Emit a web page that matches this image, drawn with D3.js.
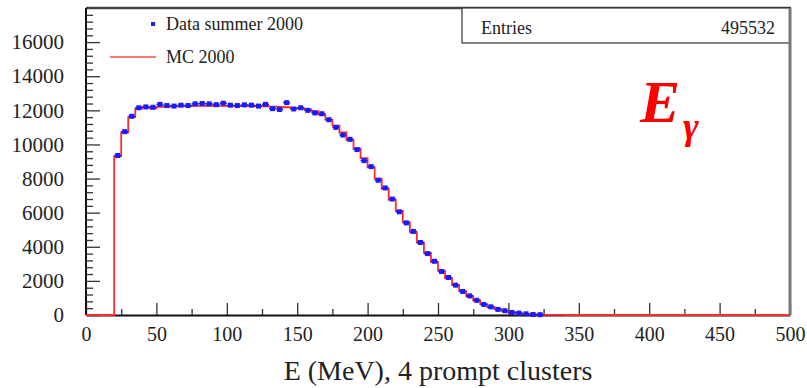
<!DOCTYPE html>
<html>
<head>
<meta charset="utf-8">
<script src="https://cdn.jsdelivr.net/npm/d3@7"></script>
<style>
  html, body { margin: 0; padding: 0; background: #fff; }
  svg { display: block; }
</style>
</head>
<body>
<svg id="chart" width="807" height="388"></svg>
<script>
// Photon energy spectrum, 4 prompt clusters: 5 MeV bins from 20 MeV upward
const binWidth = 5;
const binStarts = [20,25,30,35,40,45,50,55,60,65,70,75,80,85,90,95,100,105,110,115,120,125,130,135,140,145,
  150,155,160,165,170,175,180,185,190,195,200,205,210,215,220,225,230,235,240,245,250,255,260,265,270,275,
  280,285,290,295,300,305,310,315,320,325,330,335];
// Monte Carlo expectation (red histogram)
const mcCounts = [9300,10700,11600,12100,12200,12120,12200,12220,12240,12250,12250,12260,12270,12270,12260,12260,
  12260,12250,12250,12250,12240,12240,12220,12200,12180,12150,
  12120,12060,11950,11750,11450,11100,10700,10250,9750,9200,8650,8000,7400,6750,6100,5450,4850,4250,3650,3100,
  2600,2150,1750,1400,1100,850,640,470,340,240,160,100,60,35,20,10,5,2];
// Summer 2000 data (blue points)
const dataCounts = [9350,10750,11650,12150,12200,12180,12350,12280,12250,12300,12280,12380,12400,12380,12330,12420,
  12300,12280,12320,12300,12250,12350,12100,12050,12450,12080,
  12150,12000,11850,11800,11450,11000,10550,10300,9700,9050,8700,7900,7450,6800,6050,5400,4900,4250,3600,3150,
  2550,2200,1750,1380,1120,860,620,480,330,250,150,110,70,30,20,null,null,null];
const xTicks = [0,50,100,150,200,250,300,350,400,450,500];
const yTicks = [0,2000,4000,6000,8000,10000,12000,14000,16000];
const entries = "495532";

const serif = '"Liberation Serif"';
const svg = d3.select("#chart");
const padL = 86, padR = 790, padT = 8, padB = 315;
const x = d3.scaleLinear().domain([0, 500]).range([padL, padR]);
const y = d3.scaleLinear().domain([0, 18000]).range([padB, padT]);

// frame: dark top edge
svg.append("line").attr("x1", padL).attr("x2", padR + 1).attr("y1", padT).attr("y2", padT)
  .attr("stroke", "#444").attr("stroke-width", 2.5);

// MC histogram as a step outline starting and ending on the baseline
const steps = [[0, 0], [binStarts[0], 0]];
binStarts.forEach((s, i) => {
  steps.push([s, mcCounts[i]]);
  steps.push([s + binWidth, mcCounts[i]]);
});
steps.push([binStarts[binStarts.length - 1] + binWidth, 0]);
steps.push([500, 0]);

// x axis: major ticks every 50, minor every 25, pointing into the plot
const xAxis = svg.append("g").attr("transform", `translate(0,${padB})`)
  .call(d3.axisBottom(x).tickValues(xTicks).tickFormat(d3.format("d"))
    .tickSizeInner(-12).tickSizeOuter(0).tickPadding(24));
xAxis.select(".domain").attr("stroke", "#111").attr("stroke-width", 2);
xAxis.selectAll(".tick line").attr("stroke", "#333").attr("stroke-width", 1.3);
xAxis.selectAll("text").attr("font-size", 20).attr("fill", "#222").attr("dy", "0.1em")
  .style("font-family", serif);
svg.append("g").attr("transform", `translate(0,${padB})`)
  .call(d3.axisBottom(x).tickValues(d3.range(25, 500, 50)).tickSize(-6).tickFormat(""))
  .call(s => s.select(".domain").remove())
  .selectAll("line").attr("stroke", "#333").attr("stroke-width", 1.3);

// y axis: major ticks every 2000, minor every 400
const yAxis = svg.append("g").attr("transform", `translate(${padL},0)`)
  .call(d3.axisLeft(y).tickValues(yTicks).tickFormat(d3.format("d"))
    .tickSizeInner(-14).tickSizeOuter(0).tickPadding(22));
yAxis.select(".domain").attr("stroke", "#111").attr("stroke-width", 2)
  .attr("d", `M0,${padT}V${padB}`);
yAxis.selectAll(".tick line").attr("stroke", "#333").attr("stroke-width", 1.3);
yAxis.selectAll("text").attr("font-size", 21).attr("fill", "#222").style("font-family", serif);
svg.append("g").attr("transform", `translate(${padL},0)`)
  .call(d3.axisLeft(y).tickValues(d3.range(400, 18000, 400).filter(v => v % 2000 !== 0)).tickSize(-7).tickFormat(""))
  .call(s => s.select(".domain").remove())
  .selectAll("line").attr("stroke", "#333").attr("stroke-width", 1.3);

svg.append("path")
  .attr("d", d3.line().x(d => x(d[0])).y(d => y(d[1]))(steps))
  .attr("fill", "none").attr("stroke", "#ff2a2a").attr("stroke-width", 1.8);

// data points with bin-width bars
const pts = binStarts.map((s, i) => ({ s, v: dataCounts[i] })).filter(d => d.v != null);
const g = svg.append("g").attr("fill", "#1a1aff").attr("stroke", "#1a1aff");
g.selectAll("line.bar").data(pts).join("line").attr("class", "bar")
  .attr("x1", d => x(d.s)).attr("x2", d => x(d.s + binWidth))
  .attr("y1", d => y(d.v)).attr("y2", d => y(d.v)).attr("stroke-width", 1.5);
g.selectAll("rect").data(pts).join("rect")
  .attr("x", d => x(d.s + binWidth / 2) - 2.5).attr("y", d => y(d.v) - 2.5)
  .attr("width", 5).attr("height", 5).attr("stroke", "none");

function label(xp, yp, size, str, anchor) {
  return svg.append("text").attr("x", xp).attr("y", yp).attr("font-size", size)
    .attr("text-anchor", anchor || "start").attr("fill", "#222")
    .style("font-family", serif).text(str);
}

// axis title
label((padL + padR) / 2, 380, 28, "E (MeV), 4 prompt clusters", "middle");

// legend
svg.append("rect").attr("x", 151).attr("y", 22).attr("width", 4).attr("height", 4).attr("fill", "#1a1aff");
label(166, 30, 18, "Data summer 2000");
svg.append("line").attr("x1", 110).attr("x2", 156).attr("y1", 57).attr("y2", 57)
  .attr("stroke", "#ff4a4a").attr("stroke-width", 1.5);
label(166, 63, 18, "MC 2000");

// statistics box
svg.append("rect").attr("x", 462).attr("y", padT).attr("width", padR - 462).attr("height", 35)
  .attr("fill", "#fff").attr("stroke", "#333").attr("stroke-width", 1.2);
label(481, 34, 18, "Entries");
label(775, 34, 18, entries, "end");

// frame: grey right edge
svg.append("line").attr("x1", padR).attr("x2", padR).attr("y1", padT).attr("y2", padB)
  .attr("stroke", "#777").attr("stroke-width", 3);

// E_gamma label
const lab = svg.append("text").attr("x", 640).attr("y", 122)
  .attr("fill", "#ff0000").style("font-family", serif)
  .attr("font-weight", "bold").attr("font-style", "italic");
lab.append("tspan").attr("font-size", 60).text("E");
lab.append("tspan").attr("font-size", 38).attr("dy", 17).attr("dx", 3).text("γ");
</script>
</body>
</html>
